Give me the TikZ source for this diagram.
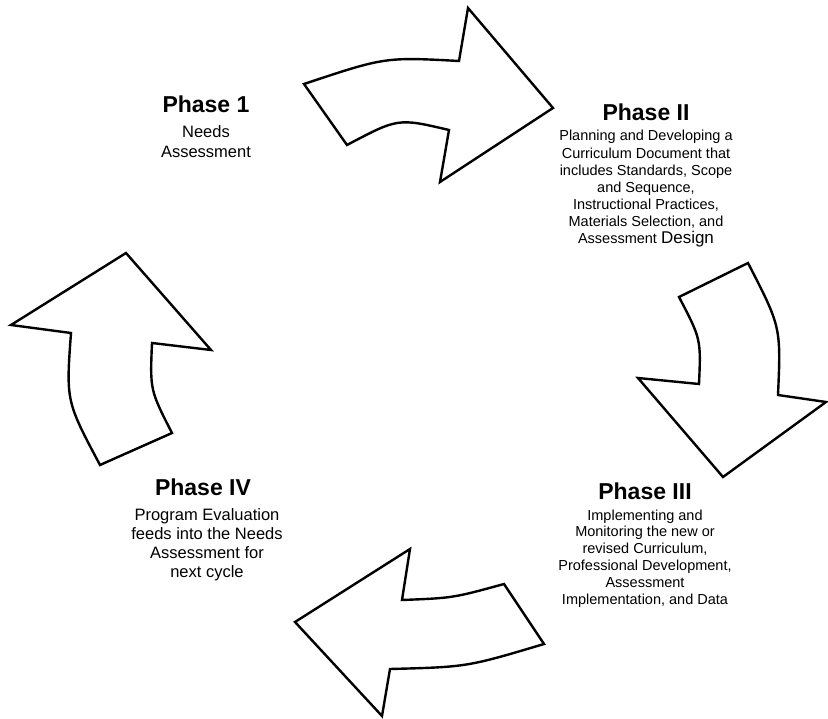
\documentclass[tikz,border=0pt]{standalone}
\usepackage{fontspec}
\setmainfont{Liberation Sans}
\begin{document}
\begin{tikzpicture}[x=1pt,y=-1pt,
  arrowshape/.style={draw=black, fill=white, line width=2.4pt, line join=miter, miter limit=10},
  head/.style={font=\fontsize{23}{27}\selectfont\bfseries, inner sep=0pt, anchor=base},
  bodysmall/.style={font=\fontsize{14.5}{17.1}\selectfont, align=center, inner sep=0pt, anchor=base},
  bodylarge/.style={font=\fontsize{16.5}{19.5}\selectfont, align=center, inner sep=0pt, anchor=base}]
\useasboundingbox (0,0) rectangle (828,719);
\fill[white] (0,0) rectangle (828,719);
% top arrow (Phase 1 -> Phase II)
\draw[arrowshape] (304,84) .. controls (385,57) .. (459,61) -- (468,8) -- (553,108)
  -- (440,182) -- (449,130) .. controls (398,118) .. (347,145) -- cycle;
% right arrow (Phase II -> Phase III)
\draw[arrowshape] (679,297) -- (748,263) .. controls (781,327) .. (778,395) -- (826,402)
  -- (723,477) -- (638,378) -- (699,384) .. controls (701,339) .. (679,297) -- cycle;
% bottom arrow (Phase III -> Phase IV)
\draw[arrowshape] (504,584) .. controls (453,598) .. (402,600) -- (410,549) -- (295,622)
  -- (382,716) -- (390,669) .. controls (467,667) .. (544,644) -- cycle;
% left arrow (Phase IV -> Phase 1)
\draw[arrowshape] (126,253) -- (211,350) -- (152,343) .. controls (150,390) .. (172,433)
  -- (100,465) .. controls (66,401) .. (71,333) -- (11,325) -- cycle;
% texts (base anchor of a multi-line node = baseline of its last line)
\node[head] (p1h) at (206,113) {Phase 1};
\node[bodylarge] (p1b) at (206,157.5) {Needs\\Assessment};
\node[head] (p2h) at (646,121) {Phase II};
\node[bodysmall] (p2b) at (646,243.6) {Planning and Developing a\\Curriculum Document that\\includes Standards, Scope\\and Sequence,\\Instructional Practices,\\Materials Selection, and\\Assessment {\fontsize{17}{17.1}\selectfont Design}};
\node[head] (p3h) at (645,499) {Phase III};
\node[bodysmall, font=\fontsize{14.5}{16.8}\selectfont] (p3b) at (645,604) {Implementing and\\Monitoring the new or\\revised Curriculum,\\Professional Development,\\Assessment\\Implementation, and Data};
\node[head] (p4h) at (203,495) {Phase IV};
\node[bodylarge, font=\fontsize{16.5}{19}\selectfont] (p4b) at (207,577) {Program Evaluation\\feeds into the Needs\\Assessment for\\next cycle};
\end{tikzpicture}
\end{document}
